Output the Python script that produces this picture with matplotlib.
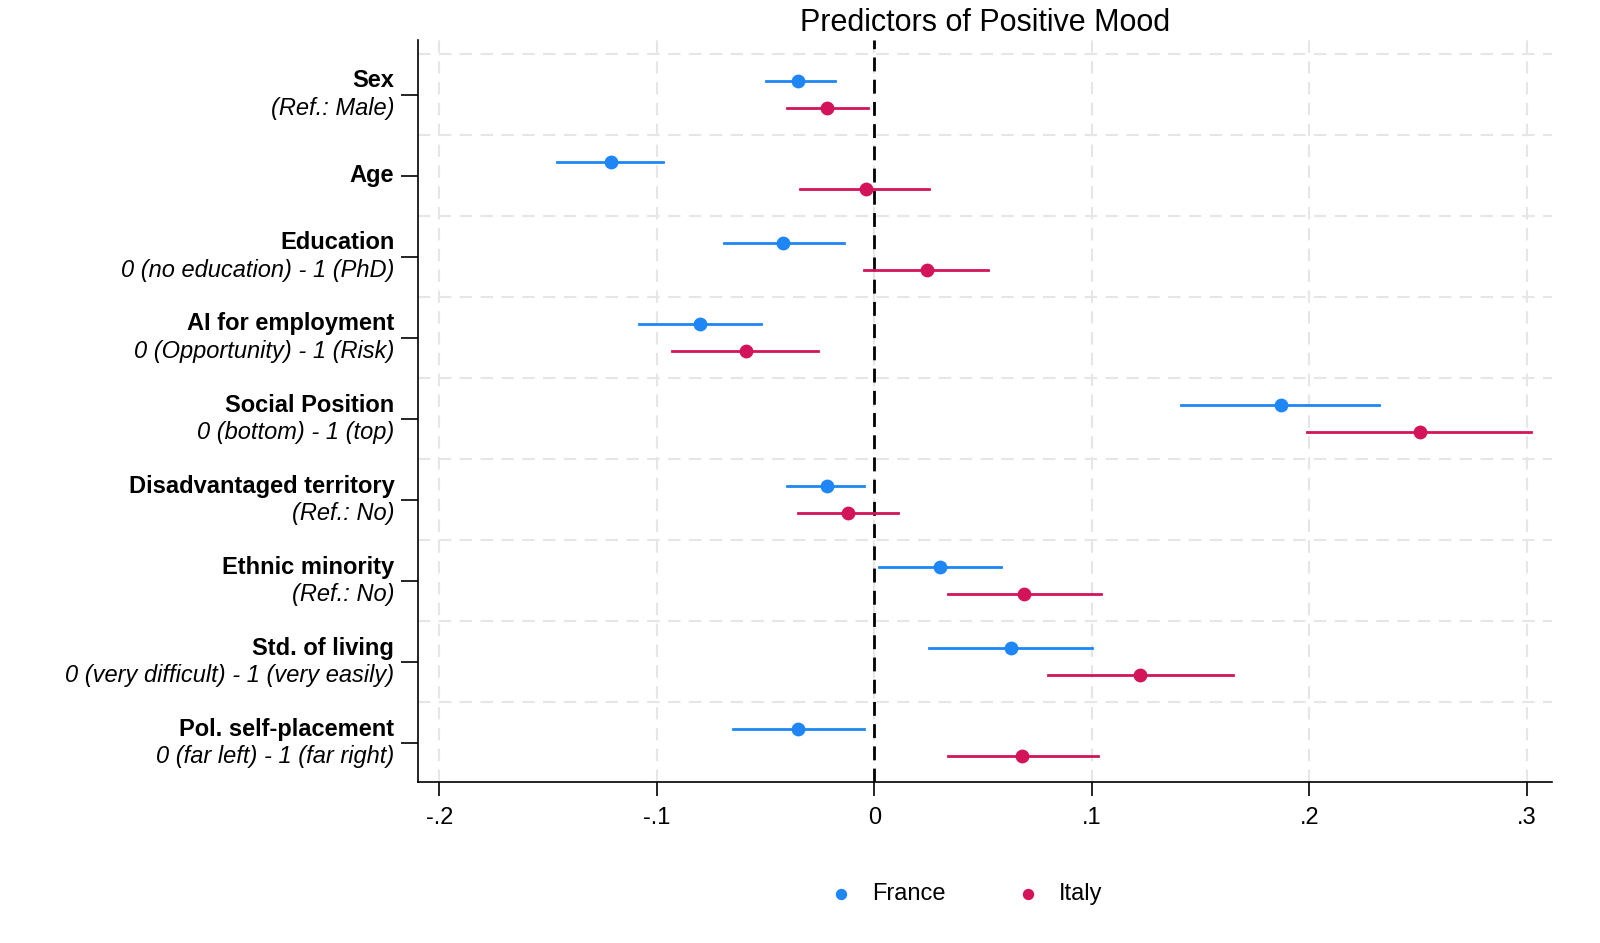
import matplotlib
matplotlib.use("Agg")
import matplotlib.pyplot as plt

plt.rcParams['font.family'] = ['Liberation Sans', 'DejaVu Sans']

names = ["Sex", "Age", "Education", "AI for employment", "Social Position",
         "Disadvantaged territory", "Ethnic minority", "Std. of living", "Pol. self-placement"]
subs = ["(Ref.: Male)", "", "0 (no education) - 1 (PhD)", "0 (Opportunity) - 1 (Risk)",
        "0 (bottom) - 1 (top)", "(Ref.: No)", "(Ref.: No)",
        "0 (very difficult) - 1 (very easily)", "0 (far left) - 1 (far right)"]
fr_est = [-0.035, -0.121, -0.042, -0.080, 0.187, -0.022, 0.030, 0.063, -0.035]
fr_lo = [-0.050, -0.146, -0.069, -0.108, 0.141, -0.040, 0.002, 0.025, -0.065]
fr_hi = [-0.018, -0.097, -0.014, -0.052, 0.232, -0.005, 0.058, 0.100, -0.005]
it_est = [-0.022, -0.004, 0.024, -0.059, 0.251, -0.012, 0.069, 0.122, 0.068]
it_lo = [-0.040, -0.034, -0.005, -0.093, 0.199, -0.035, 0.034, 0.080, 0.034]
it_hi = [-0.003, 0.025, 0.052, -0.026, 0.302, 0.011, 0.104, 0.165, 0.103]
xticks = [-0.2, -0.1, 0, 0.1, 0.2, 0.3]
xlabels = ["-.2", "-.1", "0", ".1", ".2", ".3"]

c_fr = "#1E86F5"
c_it = "#D3145A"

fig = plt.figure(figsize=(16, 9.43), dpi=100)
ax = fig.add_axes([0.261, 0.171, 0.709, 0.787])
n = len(names)
pos = list(range(n))
off = 0.167
for i in pos:
    ax.plot([fr_lo[i], fr_hi[i]], [i - off] * 2, color=c_fr, lw=2, zorder=3)
    ax.plot([it_lo[i], it_hi[i]], [i + off] * 2, color=c_it, lw=2, zorder=3)
ax.scatter(fr_est, [p - off for p in pos], color=c_fr, s=80, zorder=4, label="France")
ax.scatter(it_est, [p + off for p in pos], color=c_it, s=80, zorder=4, label="Italy")
ax.axvline(0, color="black", ls=(0, (5, 3)), lw=2, zorder=2)

ax.set_xlim(-0.210, 0.3115)
ax.set_ylim(n - 1 + 0.48, -0.68)
ax.set_xticks(xticks)
ax.set_xticklabels(xlabels, fontsize=17)
for x in xticks:
    ax.axvline(x, color="#e6e6e6", ls=(0, (6, 4)), lw=1.5, zorder=0)
for y in [i - 0.5 for i in range(n)]:
    ax.axhline(y, color="#e6e6e6", ls=(0, (6, 4)), lw=1.5, zorder=0)
ax.set_yticks(pos)
ax.set_yticklabels([""] * n)
ax.tick_params(axis='y', length=12, width=1.2)
ax.tick_params(axis='x', length=10, width=1.2, pad=8)
for s in ["top", "right"]:
    ax.spines[s].set_visible(False)
for s in ["left", "bottom"]:
    ax.spines[s].set_linewidth(1.2)

for i in pos:
    if subs[i]:
        ax.text(-0.0205, i - 0.17, names[i], transform=ax.get_yaxis_transform(),
                ha="right", va="center", fontsize=17, fontweight="bold")
        ax.text(-0.0205, i + 0.17, subs[i], transform=ax.get_yaxis_transform(),
                ha="right", va="center", fontsize=17, style="italic")
    else:
        ax.text(-0.0205, i, names[i], transform=ax.get_yaxis_transform(),
                ha="right", va="center", fontsize=17, fontweight="bold")

ax.set_title("Predictors of Positive Mood", fontsize=22, pad=6)
fig.legend(loc="center", bbox_to_anchor=(0.6, 0.052), ncol=2, frameon=False,
           fontsize=17, handletextpad=0.3, columnspacing=2.5, markerscale=0.8)
fig.savefig("out.png", dpi=100)
